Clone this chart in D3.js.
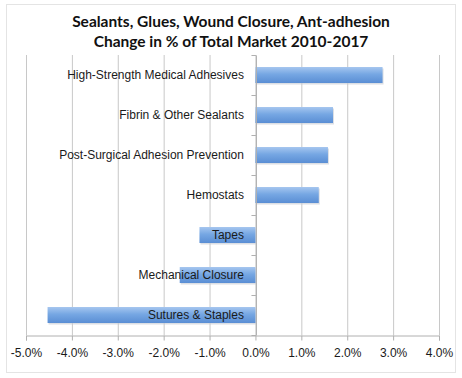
<!DOCTYPE html>
<html>
<head>
<meta charset="utf-8">
<script src="https://cdn.jsdelivr.net/npm/d3@7"></script>
<style>
  body { margin: 0; background: #fff; }
  svg { font-family: Lato, "Open Sans", sans-serif; }
</style>
</head>
<body>
<div id="chart"></div>
<script>
// categories top to bottom
var categories = ["High-Strength Medical Adhesives", "Fibrin & Other Sealants",
  "Post-Surgical Adhesion Prevention", "Hemostats", "Tapes",
  "Mechanical Closure", "Sutures & Staples"];
// change in % of total market
var values = [2.77, 1.69, 1.58, 1.38, -1.22, -1.65, -4.53];
var tickValues = [-5, -4, -3, -2, -1, 0, 1, 2, 3, 4];
var titleLines = ["Sealants, Glues, Wound Closure, Ant-adhesion",
  "Change in % of Total Market 2010-2017"];

var width = 462, height = 378;
var margin = {top: 55, right: 23, bottom: 43, left: 26};

var svg = d3.select("#chart")
    .append("svg")
    .attr("width", width)
    .attr("height", height);

// outer frame
svg.append("rect")
    .attr("x", 6.5).attr("y", 4.5)
    .attr("width", 449).attr("height", 368)
    .attr("fill", "#fff")
    .attr("stroke", "#e4e4e4");

// bar gradient
var grad = svg.append("defs").append("linearGradient")
    .attr("id", "barGrad")
    .attr("x1", 0).attr("y1", 0).attr("x2", 0).attr("y2", 1);
grad.append("stop").attr("offset", "0%").attr("stop-color", "#a6c6ef");
grad.append("stop").attr("offset", "45%").attr("stop-color", "#76a7e3");
grad.append("stop").attr("offset", "100%").attr("stop-color", "#5a8ed4");

var x = d3.scaleLinear()
    .domain([-5, 4])
    .range([margin.left, width - margin.right]);

var y = d3.scaleBand()
    .domain(categories)
    .range([margin.top, height - margin.bottom])
    .paddingInner(0.6)
    .paddingOuter(0.3);

// vertical gridlines
svg.append("g")
    .selectAll("line")
    .data(tickValues)
    .enter()
    .append("line")
        .attr("x1", (d) => x(d) + 0.5)
        .attr("x2", (d) => x(d) + 0.5)
        .attr("y1", margin.top)
        .attr("y2", height - margin.bottom)
        .attr("stroke", "#c8c8c8");

// bottom axis (plain hyphen for negatives, like the original)
var xAxis = svg.append("g")
    .attr("transform", "translate(0," + (height - margin.bottom + 0.5) + ")")
    .call(d3.axisBottom(x).tickValues(tickValues).tickSize(5).tickPadding(8)
        .tickFormat((d) => d.toFixed(1) + "%"));
xAxis.select(".domain").attr("stroke", "#b0b0b0");
xAxis.selectAll(".tick line").attr("stroke", "#b0b0b0");
xAxis.selectAll("text")
    .attr("fill", "#1a1a1a")
    .style("font-size", "12px");

// bars with soft shadow
var bars = svg.append("g");
bars.selectAll(".shadow")
    .data(values)
    .enter()
    .append("rect")
        .attr("x", (d) => x(Math.min(0, d)) + 1)
        .attr("y", (d, i) => y(categories[i]) + 1.5)
        .attr("width", (d) => Math.abs(x(d) - x(0)))
        .attr("height", y.bandwidth())
        .attr("fill", "#c4c9d2")
        .attr("opacity", 0.6);
bars.selectAll(".bar")
    .data(values)
    .enter()
    .append("rect")
        .attr("x", (d) => x(Math.min(0, d)))
        .attr("y", (d, i) => y(categories[i]))
        .attr("width", (d) => Math.abs(x(d) - x(0)))
        .attr("height", y.bandwidth())
        .attr("fill", "url(#barGrad)");

// category axis at zero
var yAxis = svg.append("g")
    .attr("transform", "translate(" + (x(0) + 0.5) + ",0)")
    .call(d3.axisLeft(y).tickSize(0).tickPadding(12));
yAxis.select(".domain").attr("stroke", "#b0b0b0");
yAxis.selectAll("text")
    .attr("fill", "#1a1a1a")
    .style("font-size", "12px");

// small marks between categories
svg.append("g")
    .selectAll("line")
    .data(d3.range(categories.length + 1))
    .enter()
    .append("line")
        .attr("x1", x(0) - 4)
        .attr("x2", x(0) + 0.5)
        .attr("y1", (d) => margin.top + d * y.step() + 0.5)
        .attr("y2", (d) => margin.top + d * y.step() + 0.5)
        .attr("stroke", "#b0b0b0");

// title
svg.append("g")
    .selectAll("text")
    .data(titleLines)
    .enter()
    .append("text")
        .attr("x", 231)
        .attr("y", (d, i) => 27 + i * 20)
        .attr("text-anchor", "middle")
        .attr("font-weight", "bold")
        .attr("fill", "#111")
        .style("font-size", "15.5px")
        .text((d) => d);
</script>
</body>
</html>
